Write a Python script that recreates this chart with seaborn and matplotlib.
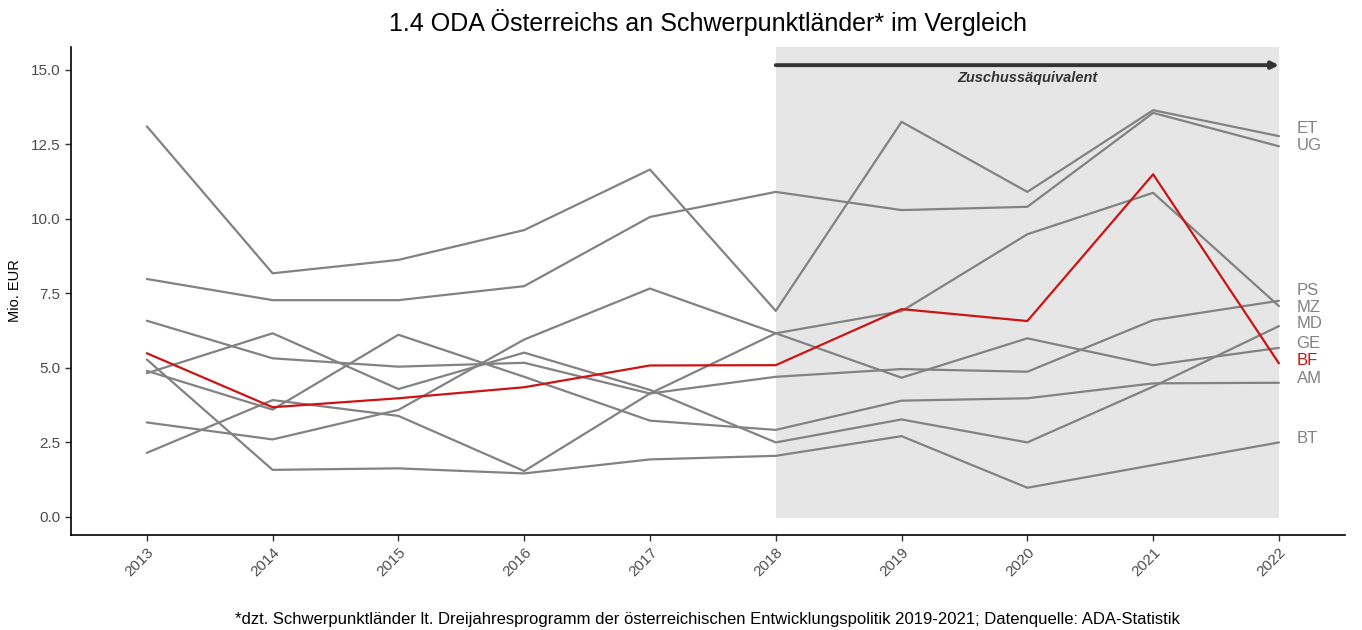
import matplotlib
matplotlib.use("Agg")
import matplotlib.pyplot as plt
import numpy as np
import pandas as pd
import seaborn as sns

# ---- data (Mio. EUR) --------------------------------------------------------
years = list(range(2013, 2023))
ET = [13.10, 8.17, 8.62, 9.62, 11.65, 6.91, 13.25, 10.90, 13.64, 12.77]
UG = [7.98, 7.27, 7.27, 7.74, 10.06, 10.90, 10.29, 10.40, 13.55, 12.43]
PS = [6.58, 5.32, 5.04, 5.17, 4.14, 4.70, 4.96, 4.87, 6.60, 7.25]
MZ = [2.15, 3.92, 3.39, 1.54, 4.14, 6.16, 6.90, 9.48, 10.87, 7.07]
MD = [4.82, 6.16, 4.29, 5.51, 4.26, 2.50, 3.27, 2.50, 4.37, 6.40]
GE = [3.17, 2.60, 3.59, 5.95, 7.66, 6.16, 4.67, 5.99, 5.09, 5.67]
BF = [5.49, 3.68, 3.98, 4.35, 5.08, 5.09, 6.97, 6.57, 11.49, 5.15]
AM = [4.90, 3.60, 6.11, 4.70, 3.23, 2.92, 3.90, 3.98, 4.48, 4.50]
BT = [5.28, 1.58, 1.63, 1.46, 1.93, 2.05, 2.71, 0.98, 1.74, 2.50]

countries = ["ET", "UG", "PS", "MZ", "MD", "GE", "AM", "BT", "BF"]
series = {"ET": ET, "UG": UG, "PS": PS, "MZ": MZ, "MD": MD,
          "GE": GE, "AM": AM, "BT": BT, "BF": BF}
highlight = "BF"

TITLE = "1.4 ODA Österreichs an Schwerpunktländer* im Vergleich"
CAPTION = ("*dzt. Schwerpunktländer lt. Dreijahresprogramm der österreichischen "
           "Entwicklungspolitik 2019-2021; Datenquelle: ADA-Statistik")
GREY, RED, DARK = "#828282", "#cc1414", "#333333"

df = pd.concat([pd.DataFrame({"year": years, "value": series[c], "country": c})
                for c in countries], ignore_index=True)

sns.set_theme(style="ticks")
plt.rcParams["font.family"] = ["Liberation Sans", "DejaVu Sans"]


def repel(vals, gap):
    """simple 1d label repel: spread clusters of end labels around their mean"""
    order = np.argsort(vals)
    v = np.asarray(vals, dtype=float)[order]
    groups = [[x] for x in v]
    changed = True
    while changed:
        changed = False
        out = [groups[0]]
        for g in groups[1:]:
            prev = out[-1]
            pc = np.mean(prev) + (len(prev) - 1) * gap / 2
            gc = np.mean(g) - (len(g) - 1) * gap / 2
            if gc - pc < gap:
                out[-1] = prev + g
                changed = True
            else:
                out.append(g)
        groups = out
    pos = []
    for g in groups:
        c = np.mean(g)
        n = len(g)
        pos.extend(c + (np.arange(n) - (n - 1) / 2) * gap)
    res = np.empty(len(v))
    res[order] = pos
    return res


fig = plt.figure(figsize=(13.62, 6.30), dpi=100)
ax = fig.add_axes([0.052, 0.151, 0.9355, 0.774])

ax.fill_between([2018, 2022], -0.05, 15.75, color="#e6e6e6", lw=0, zorder=0)

pal = {c: (RED if c == highlight else GREY) for c in countries}
sns.lineplot(data=df, x="year", y="value", hue="country", hue_order=countries,
             palette=pal, linewidth=1.6, legend=False, ax=ax, zorder=2)

ax.annotate("", xy=(2022, 15.15), xytext=(2018, 15.15),
            arrowprops=dict(arrowstyle="-|>", color=DARK, lw=2.8,
                            mutation_scale=10, shrinkA=0, shrinkB=0))
ax.text(2020, 14.72, "Zuschussäquivalent", ha="center", va="center",
        fontstyle="italic", fontweight="bold", fontsize=10.5, color=DARK)

ends = [series[c][-1] for c in countries]
label_y = repel(ends, 0.56) + 0.13
for c, y in zip(countries, label_y):
    ax.text(2022.14, y, c, ha="left", va="center", fontsize=12,
            color=RED if c == highlight else GREY)

ax.set_xlim(2012.396, 2022.525)
ax.set_ylim(-0.6, 15.75)
ax.set_xticks(years)
ax.set_xticklabels([str(y) for y in years], rotation=45, ha="right",
                   rotation_mode="anchor")
ax.set_yticks([0, 2.5, 5, 7.5, 10, 12.5, 15])
ax.set_yticklabels([f"{t:.1f}" for t in [0, 2.5, 5, 7.5, 10, 12.5, 15]])
ax.tick_params(labelsize=11, labelcolor="#4d4d4d", color="#333333",
               length=4, width=1)
ax.set_xlabel("")
ax.set_ylabel("Mio. EUR", fontsize=10.5, color="black", labelpad=6)
for s in ["left", "bottom"]:
    ax.spines[s].set_color("black")
    ax.spines[s].set_linewidth(1.2)
sns.despine(ax=ax)
ax.grid(False)

cx = 0.052 + 0.9355 / 2
fig.text(cx, 0.965, TITLE, ha="center", va="center", fontsize=18, color="black")
fig.text(cx, 0.016, CAPTION, ha="center", va="center", fontsize=12, color="black")

fig.savefig("out.png", dpi=100)
